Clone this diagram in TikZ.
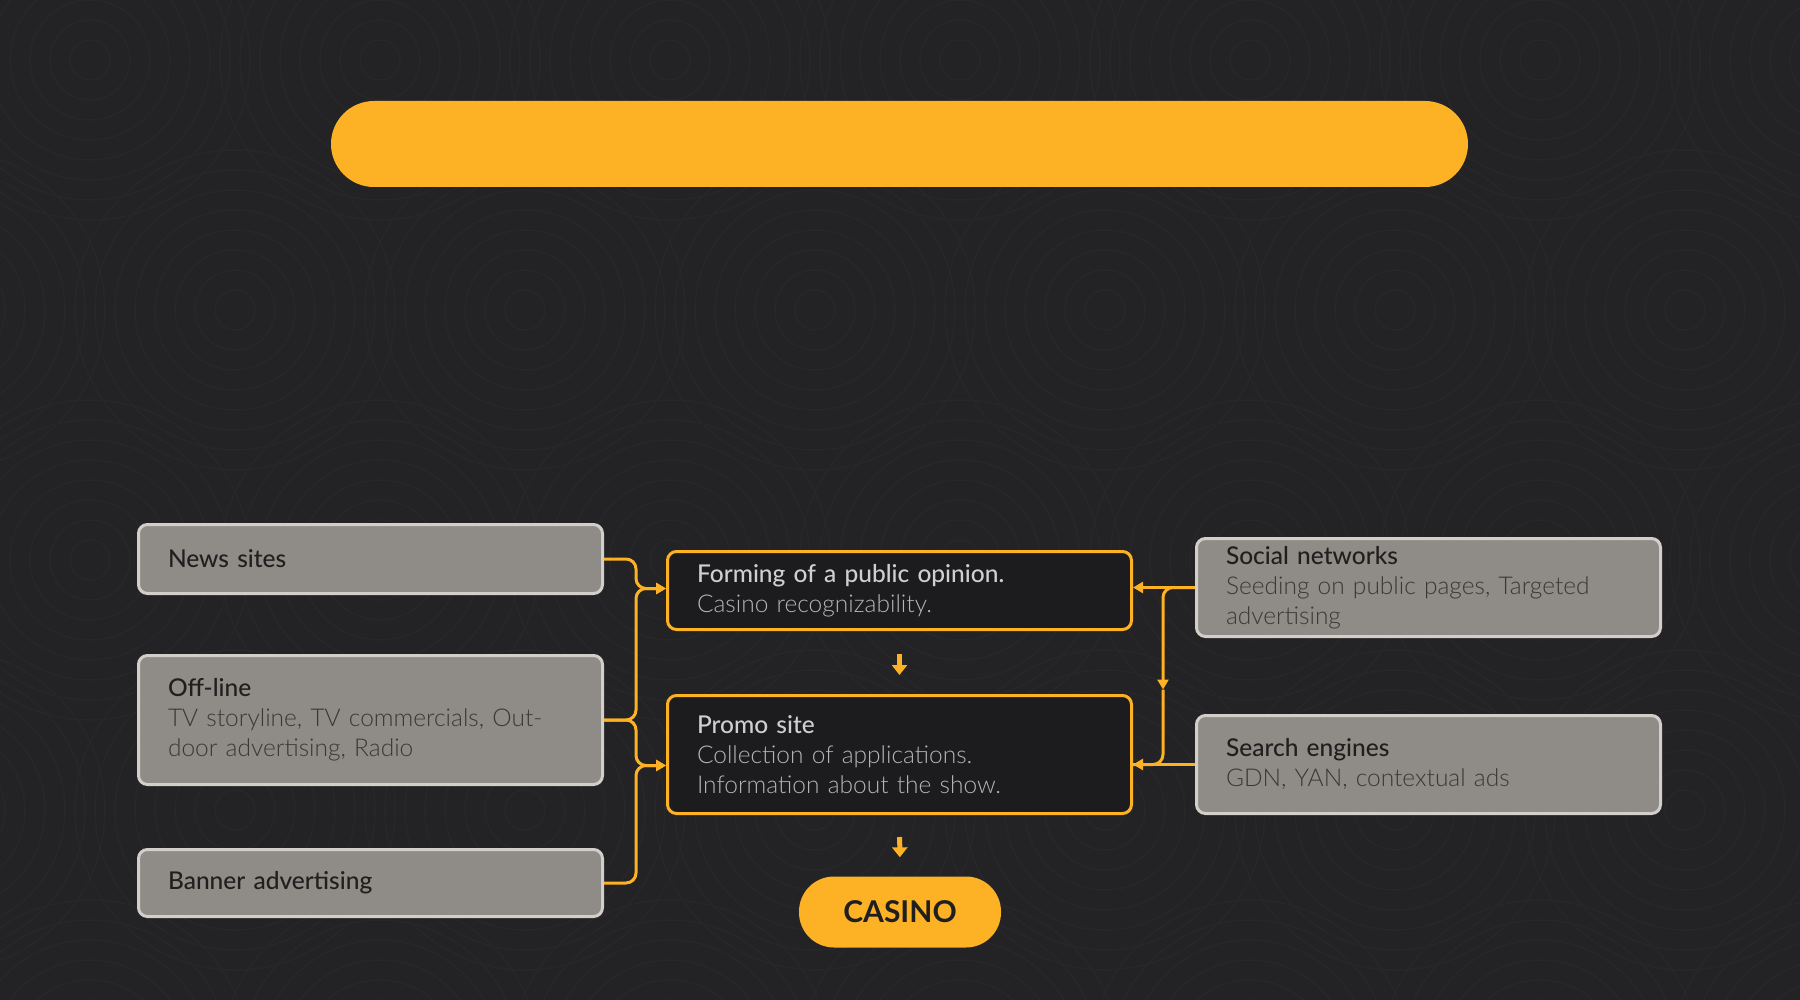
\documentclass[tikz,border=0pt]{standalone}
\usepackage{fontspec}
\setmainfont{Lato}
\newfontfamily\lightfont{Lato Light}
\newfontfamily\medfont{Lato Medium}
\usetikzlibrary{arrows.meta,calc}
\definecolor{bg}{HTML}{232325}
\definecolor{circ}{HTML}{272729}
\definecolor{gold}{HTML}{FDB124}
\definecolor{greyfill}{HTML}{8F8B86}
\definecolor{greyline}{HTML}{D2CFCA}
\definecolor{darkfill}{HTML}{1C1C1E}
\definecolor{darktext}{HTML}{1F1F1F}
\definecolor{desctext}{HTML}{3A3835}
\definecolor{lighttitle}{HTML}{CFCFCF}
\definecolor{lightdesc}{HTML}{B5B5B5}
\tikzset{
  greybox/.style={draw=greyline, fill=greyfill, line width=3pt, rounded corners=9pt,
    minimum width=464pt, inner xsep=0pt, inner ysep=0pt, text width=405pt, align=left,
    font=\medfont\fontsize{24.5}{30}\selectfont, text=darktext},
  darkbox/.style={draw=gold, fill=darkfill, line width=3pt, rounded corners=9pt,
    minimum width=464pt, inner xsep=0pt, inner ysep=0pt, text width=405pt, align=left,
    font=\medfont\fontsize{24.5}{30}\selectfont, text=lighttitle},
  conn/.style={draw=gold, line width=3pt, rounded corners=10pt},
  tip/.style={-{Triangle[length=10pt,width=11pt]}},
  bigarrow/.style={draw=gold, line width=5pt, -{Triangle[length=10pt,width=15pt]}},
  bgcirc/.style={draw=circ, line width=1.5pt}
}
\begin{document}
\begin{tikzpicture}[x=1pt,y=-1pt]
\fill[bg] (0,0) rectangle (1800,1000);
\useasboundingbox (0,0) rectangle (1800,1000);
\begin{scope}
\clip (0,0) rectangle (1800,1000);
\foreach \cx/\cy in {90/60,380/60,670/60,960/60,1250/60,1540/60,1830/60,
  235/310,525/310,815/310,1105/310,1395/310,1685/310,-55/310,
  90/560,380/560,670/560,960/560,1250/560,1540/560,1830/560,
  235/810,525/810,815/810,1105/810,1395/810,1685/810,-55/810,
  90/1060,380/1060,670/1060,960/1060,1250/1060,1540/1060,1830/1060}
  \foreach \r in {20,40,...,160}
    \draw[bgcirc] (\cx,\cy) circle[radius=\r];
\end{scope}

% title bar
\node[fill=gold, rounded corners=43pt, minimum width=1137pt, minimum height=86pt, inner sep=0pt] (titlebar) at (899.5,144) {};

% left column
\node[greybox, minimum height=69pt] (news) at (370.5,559) {News sites};
\node[greybox, minimum height=129pt] (offline) at (370.5,720)
  {Off-line\\{\lightfont\color{desctext}TV storyline, TV commercials, Out-}\\{\lightfont\color{desctext}door advertising, Radio}};
\node[greybox, minimum height=67pt] (banner) at (370.5,883) {Banner advertising};

% centre column
\node[darkbox, minimum height=78pt] (forming) at (899.5,590.5)
  {Forming of a public opinion.\\{\lightfont\color{lightdesc}Casino recognizability.}};
\node[darkbox, minimum height=118pt] (promo) at (899.5,754.5)
  {Promo site\\{\lightfont\color{lightdesc}Collection of applications.}\\{\lightfont\color{lightdesc}Information about the show.}};
\node[fill=gold, rounded corners=35pt, minimum width=202pt, minimum height=71pt, inner sep=0pt,
  font=\bfseries\fontsize{30}{32}\selectfont, text=darktext] (casino) at (900,912) {CASINO};

% right column
\node[greybox, minimum height=98pt] (social) at (1428.5,587.5)
  {Social networks\\{\lightfont\color{desctext}Seeding on public pages, Targeted}\\{\lightfont\color{desctext}advertising}};
\node[greybox, minimum height=98pt] (search) at (1428.5,764.5)
  {Search engines\\{\lightfont\color{desctext}GDN, YAN, contextual ads}};

% helper coordinates
\coordinate (fin) at ($(forming.west)+(0,-2)$);
\coordinate (pin) at ($(promo.west)+(0,11)$);
\coordinate (busL1) at ($(fin)+(-30,0)$);
\coordinate (busL2) at ($(pin)+(-30,0)$);
\coordinate (fout) at (social.west -| forming.east);
\coordinate (pout) at (search.west -| promo.east);
\coordinate (busR) at ($(social.west)+(-32,102)$);

% left connectors
\draw[conn,tip] (news.east) -| (busL1) -- (fin);
\draw[conn,tip] (offline.east) -| (busL1) -- (fin);
\draw[conn,tip] (offline.east) -| (busL2) -- (pin);
\draw[conn,tip] (banner.east) -| (busL2) -- (pin);

% right connectors
\draw[conn,tip] (social.west) -- (fout);
\draw[conn,tip] (social.west) -| (busR);
\draw[conn] (busR) |- (pout);
\draw[conn,tip] (search.west) -- (pout);

% flow arrows
\draw[bigarrow, shorten <=23pt, shorten >=19pt] (forming.south) -- (promo.north);
\draw[bigarrow, shorten <=22pt, shorten >=19pt] (promo.south) -- (casino.north);
\end{tikzpicture}
\end{document}
